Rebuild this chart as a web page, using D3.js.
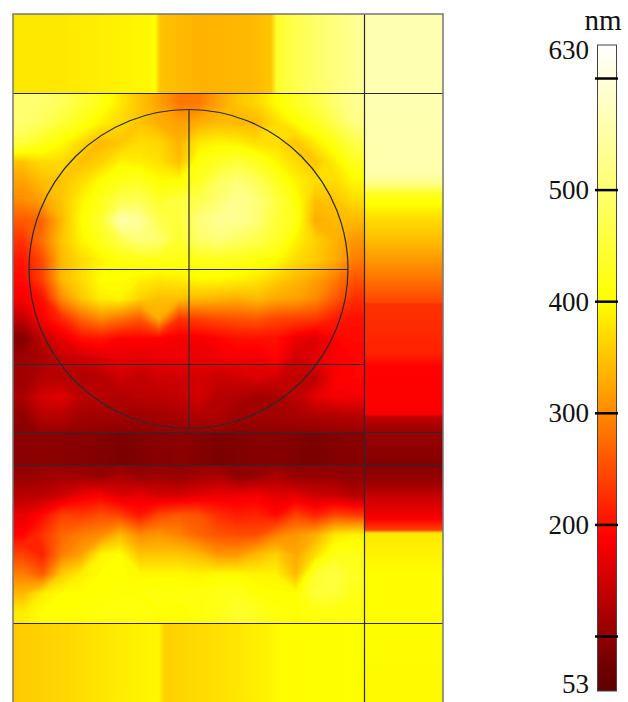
<!DOCTYPE html>
<html lang="en">
<head>
    <meta charset="UTF-8">
    <title>Thickness map</title>
    <style>
        html, body { margin: 0; padding: 0; background: #fff; }
        svg { display: block; }
        text { font-family: "Liberation Serif", serif; fill: #111; }
    </style>
</head>
<body>
<div class="graph"></div>
<script src="https://d3js.org/d3.v7.min.js"></script>
<script>
    var w = 628, h = 702;

    // colour bar
    var colorValues = [53, 75, 188, 300, 400, 630];
    var colorNames = ["#600000", "#700000", "#ff0000", "#ff8a00", "#ffff00", "#ffffff"];
    var barTicks = [600, 500, 400, 300, 200, 100];
    var barLabels = [630, 500, 400, 300, 200, 53];

    // model grid: all the lines of the drawing
    var wideLines = [79, 418, 451, 609];   // y, full width
    var shortLines = [350];                // y, left part only
    var rightEdge = 351;                   // x of the long vertical
    var circleCenter = [175.5, 255];
    var circleRadius = 159.5;

    // strip on top, by x
    var topX = [0, 50, 100, 136, 142, 147, 152, 190, 240, 258, 264, 290, 320, 351];
    var topV = [380, 380, 388, 395, 405, 350, 345, 335, 340, 350, 440, 480, 510, 540];
    // strip at the bottom, by x
    var bottomX = [0, 50, 100, 140, 146, 152, 200, 240, 260, 266, 351];
    var bottomV = [355, 365, 382, 392, 392, 360, 372, 385, 392, 398, 400];
    // dark band, by x
    var bandX = [0, 40, 80, 110, 140, 170, 205, 240, 270, 300, 330, 351];
    var bandV = [96, 97, 92, 84, 94, 97, 84, 92, 92, 84, 92, 92];
    // right column, by y
    var rightY = [0, 79, 160, 170, 180, 190, 205, 225, 260, 288, 290, 340, 352, 400, 403, 418, 451, 470, 485, 505, 516, 519, 560, 609, 688];
    var rightV = [560, 560, 555, 520, 430, 400, 370, 345, 290, 245, 228, 215, 190, 185, 140, 108, 90, 112, 150, 185, 240, 380, 398, 398, 395];

    // mesh between the strips, 18 columns by 27 rows
    var meshCols = 18;
    var meshRows = [
        [500, 500, 480, 450, 420, 380, 350, 320, 285, 285, 320, 350, 365, 400, 430, 460, 500, 530],
        [500, 480, 450, 420, 390, 370, 350, 330, 318, 330, 340, 340, 340, 370, 400, 430, 470, 520],
        [460, 430, 400, 370, 340, 350, 370, 365, 335, 380, 390, 385, 370, 370, 350, 385, 420, 470],
        [350, 370, 370, 345, 360, 390, 385, 375, 345, 410, 430, 450, 430, 395, 370, 350, 385, 430],
        [320, 345, 350, 370, 400, 420, 430, 400, 400, 430, 480, 510, 480, 430, 390, 370, 370, 395],
        [300, 320, 350, 390, 425, 470, 480, 440, 460, 470, 500, 530, 510, 460, 410, 345, 350, 370],
        [260, 270, 340, 400, 440, 560, 540, 470, 450, 510, 530, 530, 510, 450, 420, 330, 340, 340],
        [230, 280, 350, 390, 425, 470, 510, 500, 440, 490, 510, 490, 470, 440, 390, 360, 335, 310],
        [205, 250, 340, 370, 390, 410, 420, 420, 415, 420, 425, 420, 410, 400, 370, 355, 330, 290],
        [195, 240, 340, 370, 400, 400, 390, 380, 385, 395, 395, 390, 380, 360, 340, 320, 290, 255],
        [180, 200, 300, 350, 385, 390, 360, 345, 345, 340, 335, 330, 340, 325, 320, 300, 260, 225],
        [140, 185, 220, 270, 300, 280, 260, 330, 230, 240, 250, 255, 260, 245, 240, 235, 210, 200],
        [90, 140, 170, 200, 205, 190, 190, 190, 180, 180, 190, 200, 200, 200, 175, 160, 190, 195],
        [110, 120, 140, 150, 160, 170, 165, 170, 175, 170, 175, 180, 175, 190, 150, 165, 185, 190],
        [110, 130, 130, 125, 130, 150, 140, 150, 150, 155, 145, 150, 160, 150, 140, 135, 185, 190],
        [120, 155, 165, 135, 130, 125, 135, 135, 140, 155, 130, 125, 115, 120, 135, 165, 180, 180],
        [100, 130, 130, 115, 115, 115, 110, 115, 120, 125, 125, 110, 115, 115, 120, 125, 125, 130],
        [95, 100, 100, 100, 95, 92, 95, 100, 100, 95, 100, 92, 95, 95, 95, 92, 100, 100],
        [92, 95, 95, 95, 92, 90, 92, 95, 95, 92, 95, 90, 92, 92, 92, 90, 95, 95],
        [105, 110, 115, 110, 105, 120, 105, 110, 105, 115, 120, 100, 105, 120, 105, 105, 105, 100],
        [130, 135, 150, 175, 185, 160, 170, 155, 155, 165, 175, 175, 180, 165, 165, 150, 145, 130],
        [170, 195, 240, 235, 250, 240, 205, 245, 260, 255, 225, 210, 215, 195, 240, 215, 245, 235],
        [190, 230, 270, 290, 300, 340, 300, 310, 295, 270, 255, 250, 250, 290, 310, 330, 380, 390],
        [240, 215, 290, 320, 390, 400, 350, 350, 350, 340, 310, 310, 340, 360, 325, 370, 420, 420],
        [290, 260, 355, 385, 400, 400, 395, 395, 395, 390, 395, 395, 390, 390, 340, 440, 460, 430],
        [340, 385, 400, 400, 400, 405, 405, 410, 410, 410, 420, 425, 405, 400, 400, 450, 450, 420],
        [385, 400, 400, 405, 410, 410, 410, 405, 400, 410, 420, 440, 430, 410, 405, 410, 410, 410]
    ];

    var svg = d3.select(".graph").append("svg")
        .attr("width", w)
        .attr("height", h);
    var defs = svg.append("defs");

    var x = d3.scaleLinear().domain([0, 430]).range([13, 443]);
    var y = d3.scaleLinear().domain([0, 688]).range([14, 702]);
    var barY = d3.scaleLinear().domain([630, 600, 100, 53]).range([45, 78, 636, 691]);
    var color = d3.scaleLinear().domain(colorValues).range(colorNames);

    function gradient(id, pos, vals, vertical) {
        var g = defs.append("linearGradient").attr("id", id)
            .attr("x1", 0).attr("y1", 0)
            .attr("x2", vertical ? 0 : 1).attr("y2", vertical ? 1 : 0);
        var p0 = pos[0], p1 = pos[pos.length - 1];
        g.selectAll("stop").data(pos).enter().append("stop")
            .attr("offset", function(d) { return (d - p0) / (p1 - p0); })
            .attr("stop-color", function(d, i) { return color(vals[i]); });
    }
    function block(id, x0, x1, y0, y1) {
        svg.append("rect")
            .attr("x", x(x0)).attr("y", y(y0))
            .attr("width", x(x1) - x(x0)).attr("height", y(y1) - y(y0))
            .attr("fill", "url(#" + id + ")");
    }

    // mesh drawn as stacked contour bands, edge cells repeated once so corners stay filled
    var nRows = meshRows.length;
    var padded = [];
    d3.range(-1, nRows + 1).forEach(function(r) {
        var row = meshRows[Math.max(0, Math.min(nRows - 1, r))];
        d3.range(-1, meshCols + 1).forEach(function(c) {
            padded.push(row[Math.max(0, Math.min(meshCols - 1, c))]);
        });
    });
    var mx = d3.scaleLinear().domain([1, meshCols + 1]).range([x(0), x(rightEdge)]);
    var my = d3.scaleLinear().domain([1, nRows + 1]).range([y(wideLines[0]), y(wideLines[3])]);
    var meshPath = d3.geoPath(d3.geoTransform({
        point: function(a, b) { this.stream.point(mx(a), my(b)); }
    }));
    var thresholds = d3.range(50, 640, 4);
    var contours = d3.contours().size([meshCols + 2, nRows + 2]).thresholds(thresholds)(padded);
    defs.append("clipPath").attr("id", "meshClip").append("rect")
        .attr("x", x(0)).attr("y", y(wideLines[0]))
        .attr("width", x(rightEdge) - x(0)).attr("height", y(wideLines[3]) - y(wideLines[0]));
    svg.append("g").attr("clip-path", "url(#meshClip)")
        .selectAll("path").data(contours).enter().append("path")
        .attr("d", meshPath)
        .attr("fill", function(d) { return color(d.value + 2); });

    // strips and column
    gradient("topGrad", topX, topV, false);
    gradient("bottomGrad", bottomX, bottomV, false);
    gradient("bandGrad", bandX, bandV, false);
    gradient("rightGrad", rightY, rightV, true);
    block("topGrad", 0, rightEdge, 0, wideLines[0]);
    block("bottomGrad", 0, rightEdge, wideLines[3], 688);
    block("bandGrad", 0, rightEdge, wideLines[1], wideLines[2]);
    block("rightGrad", rightEdge, 430, 0, 688);

    // geometry lines
    var lines = svg.append("g").attr("fill", "none").attr("stroke", "#2a2a2a").attr("stroke-width", 1.2);
    lines.selectAll(".wide").data(wideLines).enter().append("line").attr("class", "wide")
        .attr("x1", x(0)).attr("x2", x(430))
        .attr("y1", function(d) { return y(d) + 0.5; }).attr("y2", function(d) { return y(d) + 0.5; });
    lines.selectAll(".short").data(shortLines).enter().append("line").attr("class", "short")
        .attr("x1", x(0)).attr("x2", x(rightEdge))
        .attr("y1", function(d) { return y(d) + 0.5; }).attr("y2", function(d) { return y(d) + 0.5; });
    lines.append("line")
        .attr("x1", x(rightEdge) + 0.5).attr("x2", x(rightEdge) + 0.5)
        .attr("y1", y(0)).attr("y2", y(688));
    lines.append("circle")
        .attr("cx", x(circleCenter[0])).attr("cy", y(circleCenter[1])).attr("r", circleRadius);
    lines.append("line")
        .attr("x1", x(circleCenter[0]) + 0.5).attr("x2", x(circleCenter[0]) + 0.5)
        .attr("y1", y(circleCenter[1] - circleRadius)).attr("y2", y(circleCenter[1] + circleRadius));
    lines.append("line")
        .attr("x1", x(circleCenter[0] - circleRadius)).attr("x2", x(circleCenter[0] + circleRadius))
        .attr("y1", y(circleCenter[1]) + 0.5).attr("y2", y(circleCenter[1]) + 0.5);
    // frame
    svg.append("path")
        .attr("d", "M" + x(0) + "," + y(688) + "V" + y(0) + "H" + x(430) + "V" + y(688))
        .attr("fill", "none").attr("stroke", "#777").attr("stroke-width", 1.5);

    // colour bar
    var barGrad = defs.append("linearGradient").attr("id", "barGrad")
        .attr("x1", 0).attr("y1", 0).attr("x2", 0).attr("y2", 1);
    barGrad.selectAll("stop").data(colorValues.slice().reverse()).enter().append("stop")
        .attr("offset", function(d) { return (barY(d) - barY(630)) / (barY(53) - barY(630)); })
        .attr("stop-color", function(d) { return color(d); });
    svg.append("rect")
        .attr("x", 597.5).attr("y", barY(630))
        .attr("width", 19).attr("height", barY(53) - barY(630))
        .attr("fill", "url(#barGrad)")
        .attr("stroke", "#444").attr("stroke-width", 1);

    var tickAxis = d3.axisLeft(barY).tickValues(barTicks).tickSize(23).tickFormat("");
    svg.append("g").attr("transform", "translate(618,0)").call(tickAxis)
        .call(function(g) { g.select(".domain").remove(); })
        .selectAll("line").attr("stroke", "#000").attr("stroke-width", 2.5);

    var labelAxis = d3.axisLeft(barY).tickValues(barLabels).tickSize(0).tickPadding(0)
        .tickFormat(d3.format("d"));
    svg.append("g").attr("transform", "translate(589,0)").call(labelAxis)
        .call(function(g) { g.select(".domain").remove(); })
        .selectAll("text")
        .style("font-family", "'Liberation Serif', serif")
        .style("font-size", "27px")
        .attr("dy", function(d) { return d === 630 ? "0.5em" : d === 53 ? "0.05em" : "0.34em"; });

    svg.append("text").attr("x", 603).attr("y", 30)
        .attr("text-anchor", "middle").style("font-size", "29px").text("nm");
</script>
</body>
</html>
